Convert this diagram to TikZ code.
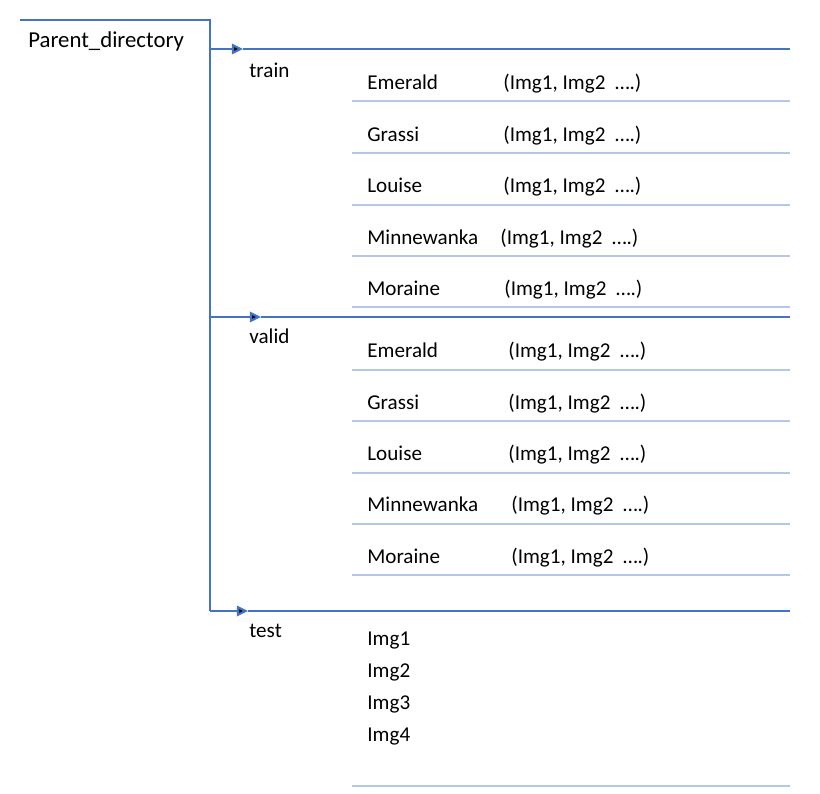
\documentclass[tikz,border=0pt]{standalone}
\usepackage{fontspec}
\setmainfont{Carlito}
\usetikzlibrary{arrows.meta,positioning}

\definecolor{mainblue}{HTML}{4472C4}
\definecolor{subblue}{HTML}{B4C7E7}

\begin{document}
\begin{tikzpicture}[x=0.54pt,y=-0.54pt,>={Triangle[length=6pt,width=5.6pt]},
        main/.style={draw=mainblue,line width=1.15pt},
        sub/.style={draw=subblue,line width=1.1pt},
        lbl/.style={anchor=base west,inner sep=0pt,yshift=-0.5pt,font=\fontsize{11.4}{13}\selectfont}]

  \useasboundingbox (0,0) rectangle (820,794);

  % tree skeleton
  \coordinate (top) at (20,20);
  \coordinate (corner) at (210,20);
  \coordinate (tr0) at (210,49);
  \coordinate (tr1) at (243,49);
  \coordinate (tr2) at (790,49);
  \coordinate (va0) at (210,317);
  \coordinate (va1) at (261,317);
  \coordinate (va2) at (790,317);
  \coordinate (ts0) at (210,611);
  \coordinate (ts1) at (248,611);
  \coordinate (ts2) at (790,611);

  \draw[main] (top) -- (corner) -- (ts0);
  \path[main] (tr0) edge[->] (tr1)
              (tr1) edge (tr2)
              (va0) edge[->] (va1)
              (va1) edge (va2)
              (ts0) edge[->] (ts1)
              (ts1) edge (ts2);

  \node[lbl,font=\fontsize{12.3}{14}\selectfont] (pd) at (28,47) {Parent\_directory};
  \node[lbl] (train) at (249,77) {train};
  \node[lbl] (valid) at (249,343) {valid};
  \node[lbl] (test) at (249,637) {test};

  % train folders
  \node[lbl] (te) at (367,89) {Emerald};
  \node[lbl] (tg) at (367,141) {Grassi};
  \node[lbl] (tl) at (367,192) {Louise};
  \node[lbl] (tm) at (367,244) {Minnewanka};
  \node[lbl] (to) at (367,295) {Moraine};
  \node[lbl] (tei) at (503,89) {(Img1, Img2\ \ ….)};
  \node[lbl] (tgi) at (503,141) {(Img1, Img2\ \ ….)};
  \node[lbl] (tli) at (503,192) {(Img1, Img2\ \ ….)};
  \node[lbl] (tmi) at (500,244) {(Img1, Img2\ \ ….)};
  \node[lbl] (toi) at (504,295) {(Img1, Img2\ \ ….)};

  % valid folders
  \node[lbl] (ve) at (367,357) {Emerald};
  \node[lbl] (vg) at (367,409) {Grassi};
  \node[lbl] (vl) at (367,460) {Louise};
  \node[lbl] (vm) at (367,511) {Minnewanka};
  \node[lbl] (vo) at (367,563) {Moraine};
  \node[lbl] (vei) at (508,357) {(Img1, Img2\ \ ….)};
  \node[lbl] (vgi) at (508,409) {(Img1, Img2\ \ ….)};
  \node[lbl] (vli) at (508,460) {(Img1, Img2\ \ ….)};
  \node[lbl] (vmi) at (511,511) {(Img1, Img2\ \ ….)};
  \node[lbl] (voi) at (511,563) {(Img1, Img2\ \ ….)};

  % test images
  \node[lbl] (i1) at (367,645) {Img1};
  \node[lbl] (i2) at (367,677) {Img2};
  \node[lbl] (i3) at (367,709) {Img3};
  \node[lbl] (i4) at (367,741) {Img4};

  % separators
  \draw[sub] (352,101) -- (790,101);
  \draw[sub] (352,153) -- (790,153);
  \draw[sub] (352,205) -- (790,205);
  \draw[sub] (352,256) -- (790,256);
  \draw[sub] (352,307) -- (790,307);
  \draw[sub] (352,370) -- (790,370);
  \draw[sub] (352,421) -- (790,421);
  \draw[sub] (352,473) -- (790,473);
  \draw[sub] (352,524) -- (790,524);
  \draw[sub] (352,575) -- (790,575);
  \draw[sub] (352,786) -- (790,786);

\end{tikzpicture}
\end{document}
